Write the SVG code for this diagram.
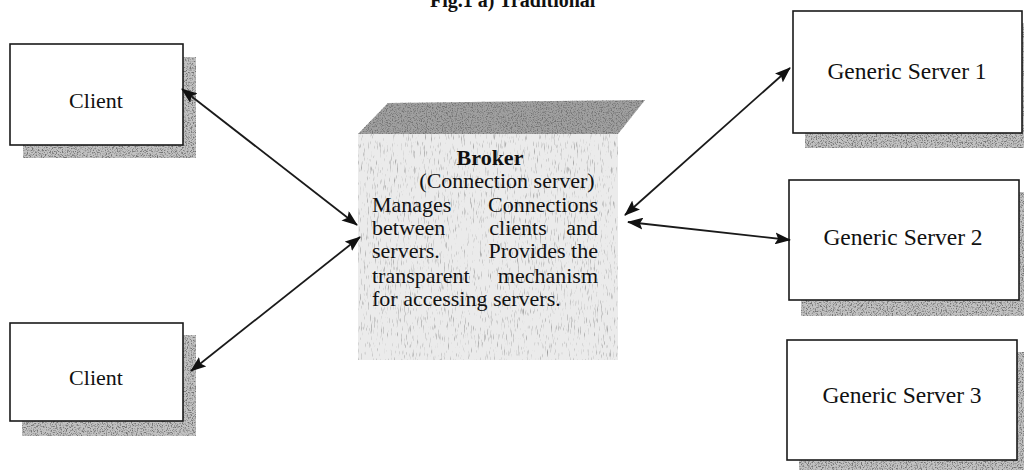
<svg xmlns="http://www.w3.org/2000/svg" width="1024" height="470" viewBox="0 0 1024 470">
<defs>
<style>
.box{fill:#fff;stroke:#1a1a1a;stroke-width:1.6}
.shadow{fill:#c2c2c2;filter:url(#speckle)}
.lbl{font-family:"Liberation Serif","Times New Roman",serif;font-size:22px;fill:#111}
.slbl{font-family:"Liberation Serif","Times New Roman",serif;font-size:23.5px;fill:#111}
.btxt{font-family:"Liberation Serif","Times New Roman",serif;font-size:22px;fill:#111}
.conn{stroke:#1a1a1a;stroke-width:1.8;fill:none;marker-start:url(#ah);marker-end:url(#ah)}
</style>
<marker id="ah" viewBox="0 0 16 12" refX="15" refY="6" markerWidth="16" markerHeight="12" markerUnits="userSpaceOnUse" orient="auto-start-reverse">
<path d="M0,0 L16,6 L0,12 L3,6 Z" fill="#111"/>
</marker>
<filter id="speckle" x="0" y="0" width="100%" height="100%" color-interpolation-filters="sRGB">
<feTurbulence type="fractalNoise" baseFrequency="0.8" numOctaves="2" seed="4" result="n"/>
<feColorMatrix in="n" type="matrix" values="0 0 0 0 0.45  0 0 0 0 0.45  0 0 0 0 0.45  4 0 0 0 -1.9" result="dots"/>
<feComposite in="dots" in2="SourceGraphic" operator="in" result="d"/>
<feMerge><feMergeNode in="SourceGraphic"/><feMergeNode in="d"/></feMerge>
</filter>
<filter id="speckleLight" x="0" y="0" width="100%" height="100%" color-interpolation-filters="sRGB">
<feTurbulence type="fractalNoise" baseFrequency="1.3 0.12" numOctaves="2" seed="7" result="n"/>
<feColorMatrix in="n" type="matrix" values="0 0 0 0 0.6  0 0 0 0 0.6  0 0 0 0 0.6  3 0 0 0 -1.75" result="dots"/>
<feComposite in="dots" in2="SourceGraphic" operator="in" result="d"/>
<feMerge><feMergeNode in="SourceGraphic"/><feMergeNode in="d"/></feMerge>
</filter>
</defs>
<rect width="1024" height="470" fill="#fff"/>
<text x="430" y="7" font-family="Liberation Serif, serif" font-weight="bold" font-size="20" fill="#111">Fig.1 a) Traditional</text>

<g id="client1">
<rect class="shadow" x="23" y="57" width="173" height="101"/>
<rect class="box" x="10" y="44" width="173" height="101"/>
<text class="lbl" x="96" y="108" text-anchor="middle">Client</text>
</g>
<g id="client2">
<rect class="shadow" x="22" y="335" width="174" height="101"/>
<rect class="box" x="10" y="323" width="173" height="98"/>
<text class="lbl" x="96" y="385" text-anchor="middle">Client</text>
</g>
<g id="server1">
<rect class="shadow" x="805" y="23" width="219" height="125"/>
<rect class="box" x="793" y="11" width="229" height="122"/>
<text class="slbl" x="907" y="79" text-anchor="middle">Generic Server 1</text>
</g>
<g id="server2">
<rect class="shadow" x="801" y="192" width="223" height="124"/>
<rect class="box" x="789" y="180" width="230" height="120"/>
<text class="slbl" x="903" y="245" text-anchor="middle">Generic Server 2</text>
</g>
<g id="server3">
<rect class="shadow" x="799" y="352" width="225" height="118"/>
<rect class="box" x="787" y="340" width="230" height="120"/>
<text class="slbl" x="902" y="403" text-anchor="middle">Generic Server 3</text>
</g>

<g id="broker">
<polygon points="358,134 388,103 645,100 618,134" fill="#a0a0a0" filter="url(#speckle)"/>
<rect x="358" y="134" width="260" height="226" fill="#ebebeb" filter="url(#speckleLight)"/>
<text class="btxt" x="490" y="165" text-anchor="middle" font-weight="bold">Broker</text>
<text class="btxt" x="507" y="188" text-anchor="middle">(Connection server)</text>
<text class="btxt" x="372" y="212">Manages</text>
<text class="btxt" x="598" y="212" text-anchor="end">Connections</text>
<text class="btxt" x="372" y="235">between</text>
<text class="btxt" x="518" y="235" text-anchor="middle">clients</text>
<text class="btxt" x="598" y="235" text-anchor="end">and</text>
<text class="btxt" x="372" y="258">servers.</text>
<text class="btxt" x="527" y="258" text-anchor="middle">Provides</text>
<text class="btxt" x="598" y="258" text-anchor="end">the</text>
<text class="btxt" x="372" y="283">transparent</text>
<text class="btxt" x="598" y="283" text-anchor="end">mechanism</text>
<text class="btxt" x="372" y="306">for accessing servers.</text>
</g>

<g id="connectors">
<line class="conn" x1="182" y1="89" x2="357" y2="225"/>
<line class="conn" x1="191" y1="371" x2="360" y2="237"/>
<line class="conn" x1="625" y1="215" x2="790" y2="68"/>
<line class="conn" x1="628" y1="222" x2="790" y2="240"/>
</g>
</svg>
